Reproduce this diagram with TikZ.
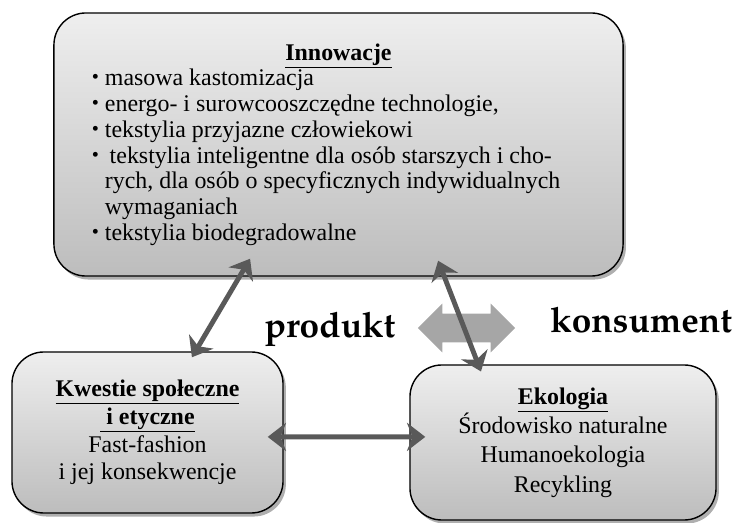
\documentclass[tikz,border=0pt]{standalone}
\usepackage{fontspec}
\usepackage[T1,TU]{fontenc}
\setmainfont{Liberation Serif}
\usetikzlibrary{arrows.meta,shapes.arrows,shadows}
\newcommand{\bul}{\makebox[0.325cm][l]{\raisebox{0.08em}{\scalebox{0.85}{\textbullet}}}}
\newcommand{\palab}{\fontencoding{T1}\fontfamily{ppl}\fontseries{b}\selectfont}

\begin{document}
\begin{tikzpicture}[x=0.025cm,y=-0.025cm,
        box/.style={draw=black, line width=1pt, rounded corners=0.8cm,
          top color=gray!13, bottom color=gray!52,
          drop shadow={shadow xshift=2pt, shadow yshift=-2.5pt, fill=gray!70, opacity=0.9}},
        link/.style={draw=black!65, line width=3.5pt,
          {Stealth[length=13pt,width=20pt,inset=4pt]}-{Stealth[length=13pt,width=20pt,inset=4pt]}},
        flow/.style={double arrow, fill=black!35, draw=none, minimum height=2.425cm,
          minimum width=1.2cm, inner xsep=0pt, inner ysep=0.35cm, double arrow head extend=0.25cm},
        word/.style={font=\palab\fontsize{25}{30}\selectfont}]
    \useasboundingbox (0,0) rectangle (744,523);
    \node[box, minimum width=14.225cm, minimum height=6.575cm] (innov) at (338.5,144.5)
      {\parbox{12.325cm}{\fontsize{17}{18.3}\selectfont
        \centering\textbf{\underline{Innowacje}}\par\raggedright
        \bul masowa kastomizacja\par
        \bul energo- i surowcooszczędne technologie,\par
        \bul tekstylia przyjazne człowiekowi\par
        \bul\hspace{0.12cm}tekstylia inteligentne dla osób starszych i cho-\par
        \hspace*{0.325cm}rych, dla osób o specyficznych indywidualnych\par
        \hspace*{0.325cm}wymaganiach\par
        \bul tekstylia biodegradowalne}};
    \node[box, minimum width=6.775cm, minimum height=4.025cm, align=center,
      font=\fontsize{17}{19.7}\selectfont] (social) at (147.5,432.5)
      {\textbf{\underline{Kwestie społeczne}}\\ \textbf{\underline{\ i etyczne}}\\
       Fast-fashion\\ i jej konsekwencje};
    \node[box, minimum width=7.65cm, minimum height=3.875cm, align=center,
      font=\fontsize{17}{20.8}\selectfont] (ecology) at (563,442.5)
      {\textbf{\underline{Ekologia}}\\ Środowisko naturalne\\ Humanoekologia\\ Recykling};
    \node[word, anchor=base] (produkt) at (330,338) {produkt};
    \node[word, anchor=base east] (konsument) at (737,333) {konsument};
    \node[flow] (swap) at (466.5,328) {};
    \draw[link] ([xshift=-2.21cm,yshift=0.45cm]innov.south) -- ([xshift=1.11cm,yshift=-0.15cm]social.north);
    \draw[link] ([xshift=2.49cm,yshift=0.4cm]innov.south) -- ([xshift=-2.05cm,yshift=-0.18cm]ecology.north);
    \draw[link] ([xshift=-0.4cm,yshift=-0.11cm]social.east) -- ([xshift=0.4cm,yshift=0.14cm]ecology.west);
\end{tikzpicture}
\end{document}
